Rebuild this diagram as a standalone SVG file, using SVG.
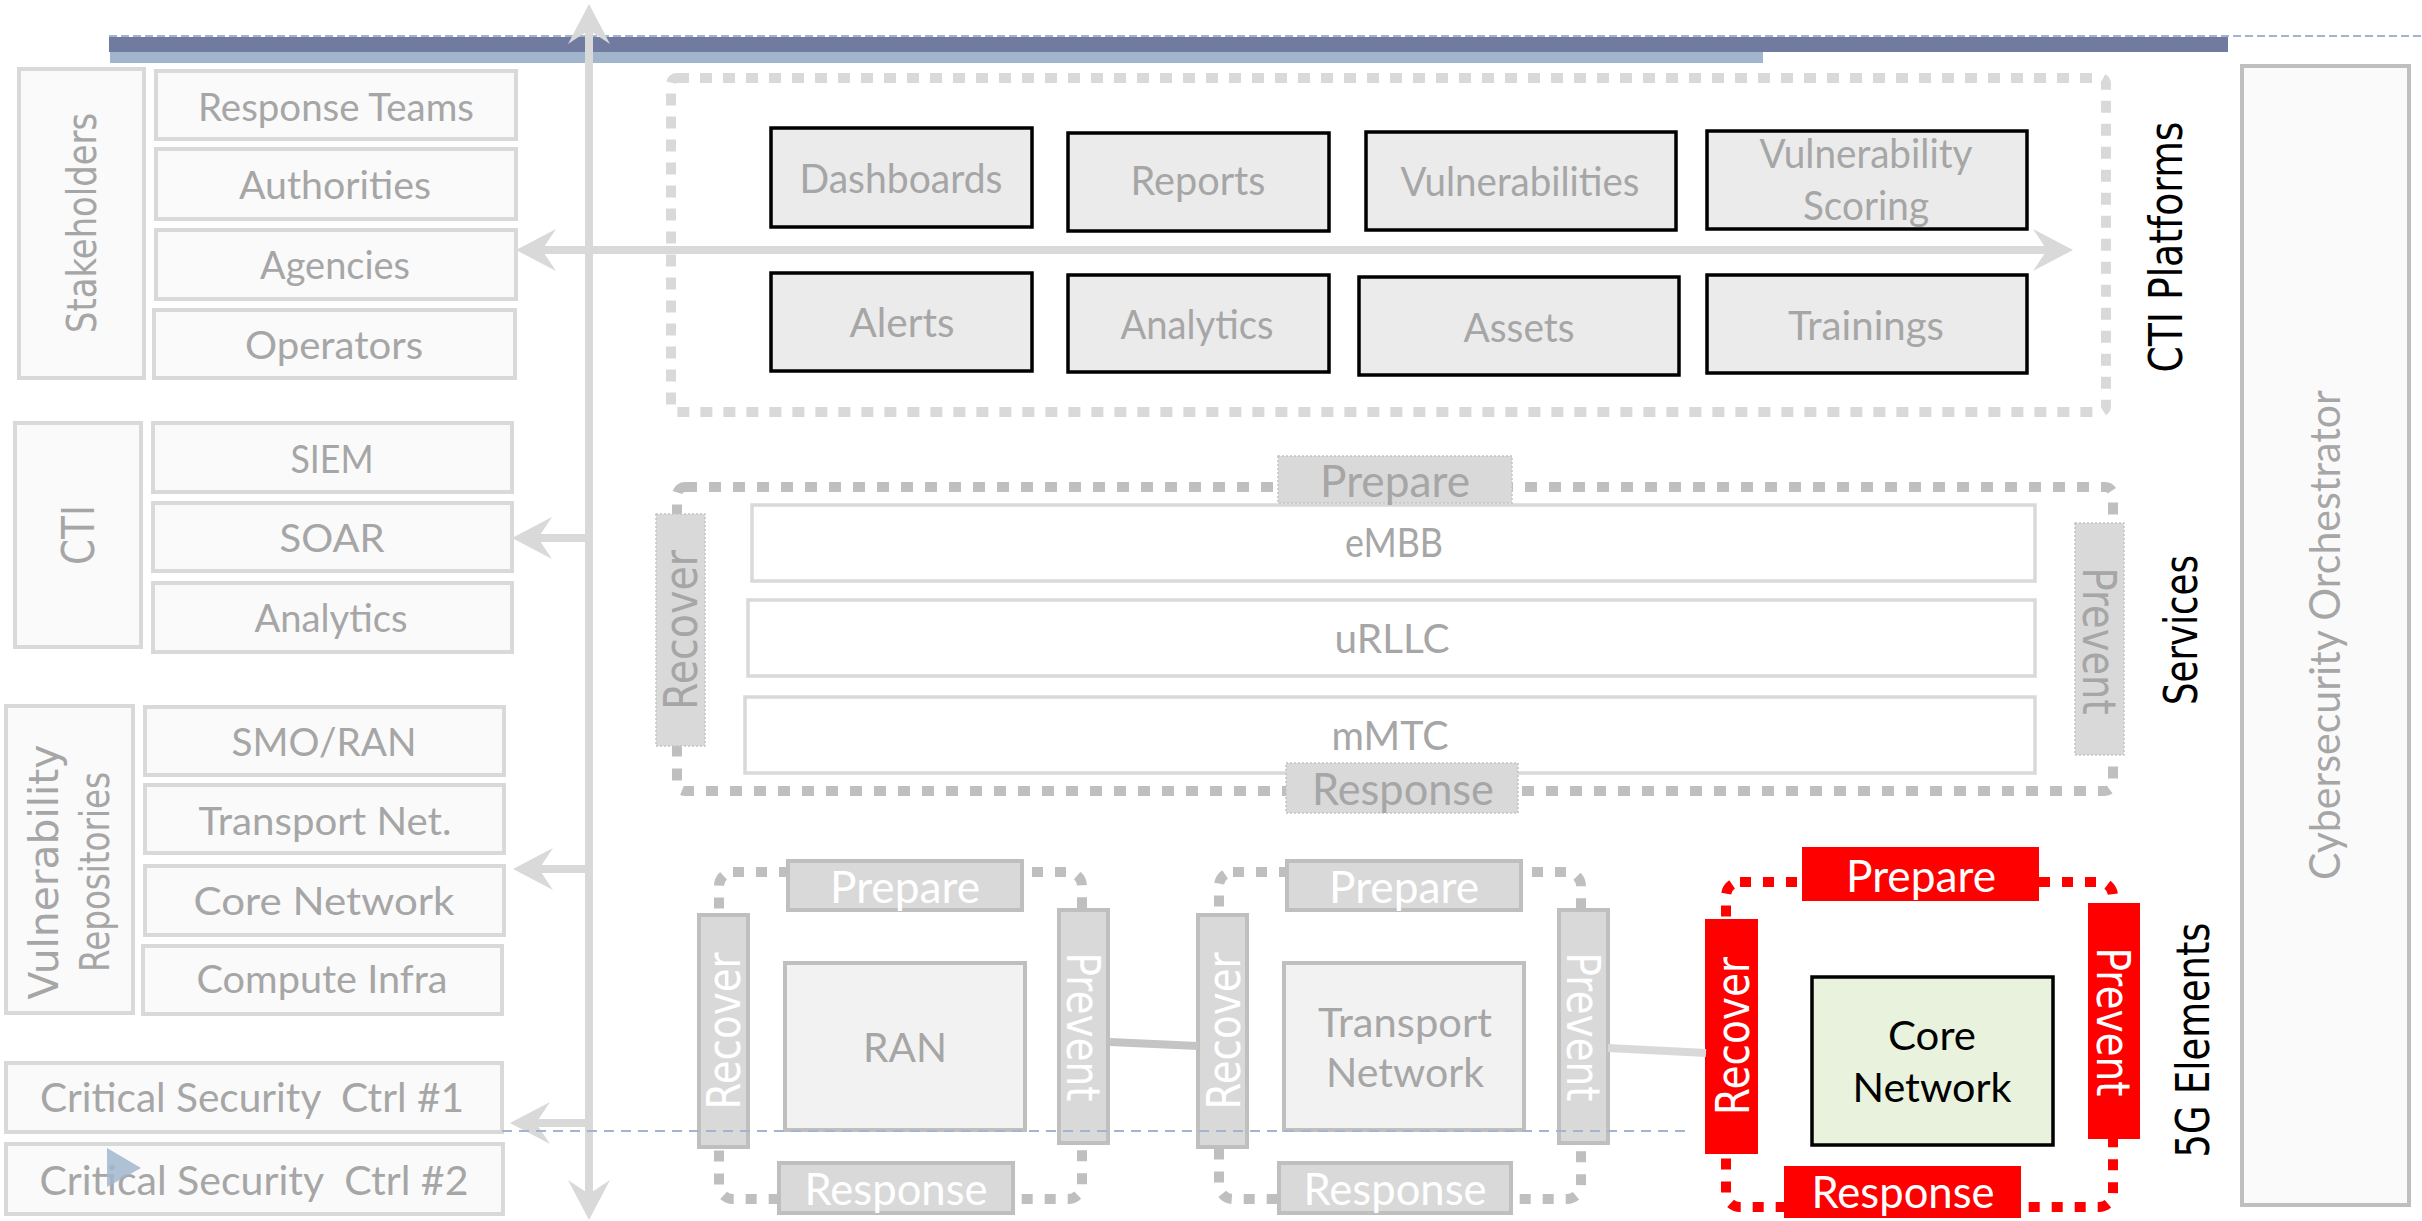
<svg xmlns="http://www.w3.org/2000/svg" width="2422" height="1221" viewBox="0 0 2422 1221">
  <defs>
    <style>
      .lbox { fill:#FAFAFA; stroke:#D9D9D9; stroke-width:4; }
      .plat { fill:#EBEBEB; stroke:#000000; stroke-width:3.5; }
      .svc  { fill:#FFFFFF; stroke:#D9D9D9; stroke-width:3.5; }
      .el   { fill:#F2F2F2; stroke:#BFBFBF; stroke-width:4; }
      .core { fill:#E8F2DC; stroke:#000000; stroke-width:3.5; }
      .orch { fill:#FAFAFA; stroke:#BFBFBF; stroke-width:4; }
      .tagg { fill:#D9D9D9; stroke:#BFBFBF; stroke-width:4; }
      .tags { fill:#D9D9D9; stroke:#C4C4C4; stroke-width:1.5; stroke-dasharray:2 2; }
      .tagr { fill:#FF0000; stroke:#FF0000; stroke-width:2; }
      .frame-plat { fill:none; stroke:#D9D9D9; stroke-width:10; stroke-dasharray:12 11; }
      .frame-svc  { fill:none; stroke:#BFBFBF; stroke-width:10; stroke-dasharray:12 12; }
      .frame-el   { fill:none; stroke:#BFBFBF; stroke-width:10; stroke-dasharray:11 12; }
      .frame-red  { fill:none; stroke:#FF0000; stroke-width:10; stroke-dasharray:11 12; }
      .t  { font-family:Lato, 'Liberation Sans', sans-serif; fill:#A6A6A6; text-anchor:middle; }
      .tw { font-family:Lato, 'Liberation Sans', sans-serif; fill:#FFFFFF; text-anchor:middle; }
      .tb { font-family:Lato, 'Liberation Sans', sans-serif; fill:#000000; text-anchor:middle; }
      .r  { font-family:'DejaVu Sans', sans-serif; text-anchor:middle; }
      .pre { white-space:pre; }
      .arrow { fill:none; stroke:#D9D9D9; stroke-width:8; }
      .link  { fill:none; stroke-width:8; }
    </style>
    <marker id="head" viewBox="0 -21 40 42" markerWidth="40" markerHeight="42" markerUnits="userSpaceOnUse" refX="30" refY="0" orient="auto-start-reverse">
      <path d="M0,-21 L40,0 L0,21 L14,0 Z" fill="#D9D9D9"/>
    </marker>
  </defs>

  <rect width="2422" height="1221" fill="#FFFFFF"/>

  <!-- header bars -->
  <g id="header">
    <line x1="109" y1="36" x2="2422" y2="36" stroke="#A1B6CC" stroke-width="2" stroke-dasharray="8 4"/>
    <rect x="109" y="37" width="2119" height="15" fill="#717BA0"/>
    <rect x="110" y="52" width="1653" height="11" fill="#A1B6CC"/>
  </g>

  <!-- stakeholders -->
  <g id="stakeholders">
    <rect class="lbox" x="19" y="69" width="125" height="309"/>
    <text class="r" fill="#A6A6A6" font-size="40" textLength="220" lengthAdjust="spacingAndGlyphs" transform="translate(96,223) rotate(-90)">Stakeholders</text>
  </g>
  <g id="response-teams">
    <rect class="lbox" x="156" y="71" width="360" height="68"/>
    <text class="t" x="336" y="121" font-size="38" textLength="276" lengthAdjust="spacingAndGlyphs">Response Teams</text>
  </g>
  <g id="authorities">
    <rect class="lbox" x="156" y="149" width="360" height="70"/>
    <text class="t" x="335" y="199" font-size="38" textLength="192" lengthAdjust="spacingAndGlyphs">Authorities</text>
  </g>
  <g id="agencies">
    <rect class="lbox" x="156" y="230" width="360" height="69"/>
    <text class="t" x="335" y="279" font-size="38" textLength="150" lengthAdjust="spacingAndGlyphs">Agencies</text>
  </g>
  <g id="operators">
    <rect class="lbox" x="154" y="310" width="361" height="68"/>
    <text class="t" x="334" y="359" font-size="38" textLength="178" lengthAdjust="spacingAndGlyphs">Operators</text>
  </g>

  <!-- CTI -->
  <g id="cti">
    <rect class="lbox" x="15" y="423" width="126" height="224"/>
    <text class="r" fill="#A6A6A6" font-size="44" textLength="60" lengthAdjust="spacingAndGlyphs" transform="translate(94,535) rotate(-90)">CTI</text>
  </g>
  <g id="siem">
    <rect class="lbox" x="153" y="423" width="359" height="69"/>
    <text class="t" x="332" y="473" font-size="38" textLength="83" lengthAdjust="spacingAndGlyphs">SIEM</text>
  </g>
  <g id="soar">
    <rect class="lbox" x="153" y="503" width="359" height="68"/>
    <text class="t" x="332" y="552" font-size="38" textLength="105" lengthAdjust="spacingAndGlyphs">SOAR</text>
  </g>
  <g id="cti-analytics">
    <rect class="lbox" x="153" y="583" width="359" height="69"/>
    <text class="t" x="331" y="632" font-size="38" textLength="153" lengthAdjust="spacingAndGlyphs">Analytics</text>
  </g>

  <!-- vulnerability repositories -->
  <g id="vuln-repos">
    <rect class="lbox" x="6" y="706" width="127" height="307"/>
    <text class="r" fill="#A6A6A6" font-size="40" textLength="255" lengthAdjust="spacingAndGlyphs" transform="translate(58,872) rotate(-90)">Vulnerability</text>
    <text class="r" fill="#A6A6A6" font-size="40" textLength="200" lengthAdjust="spacingAndGlyphs" transform="translate(109,872) rotate(-90)">Repositories</text>
  </g>
  <g id="smo-ran">
    <rect class="lbox" x="145" y="707" width="359" height="68"/>
    <text class="t" x="324" y="756" font-size="38" textLength="185" lengthAdjust="spacingAndGlyphs">SMO/RAN</text>
  </g>
  <g id="transport-net">
    <rect class="lbox" x="145" y="785" width="359" height="68"/>
    <text class="t" x="325" y="835" font-size="38" textLength="253" lengthAdjust="spacingAndGlyphs">Transport Net.</text>
  </g>
  <g id="core-net">
    <rect class="lbox" x="145" y="866" width="359" height="69"/>
    <text class="t" x="324" y="915" font-size="38" textLength="261" lengthAdjust="spacingAndGlyphs">Core Network</text>
  </g>
  <g id="compute-infra">
    <rect class="lbox" x="143" y="946" width="359" height="68"/>
    <text class="t" x="322" y="993" font-size="38" textLength="251" lengthAdjust="spacingAndGlyphs">Compute Infra</text>
  </g>

  <!-- critical security controls -->
  <g id="csc1">
    <rect class="lbox" x="6" y="1063" width="496" height="69"/>
    <text class="t pre" x="252" y="1112" font-size="40" textLength="424" lengthAdjust="spacingAndGlyphs">Critical Security  Ctrl #1</text>
  </g>
  <g id="csc2">
    <rect class="lbox" x="6" y="1144" width="497" height="70"/>
    <text class="t pre" x="254" y="1195" font-size="40" textLength="429" lengthAdjust="spacingAndGlyphs">Critical Security  Ctrl #2</text>
    <polygon points="107,1148 141,1168 107,1187" fill="#A1B6CC" fill-opacity="0.85"/>
  </g>

  <!-- CTI platforms -->
  <g id="cti-platforms">
    <rect class="frame-plat" x="671" y="78" width="1435" height="334" rx="6"/>
    <text class="r" fill="#000000" font-size="46" textLength="251" lengthAdjust="spacingAndGlyphs" transform="translate(2182,247) rotate(-90)">CTI Platforms</text>
  </g>
  <g id="dashboards">
    <rect class="plat" x="771" y="128" width="261" height="99"/>
    <text class="t" x="901" y="193" font-size="40" textLength="203" lengthAdjust="spacingAndGlyphs">Dashboards</text>
  </g>
  <g id="reports">
    <rect class="plat" x="1068" y="133" width="261" height="98"/>
    <text class="t" x="1198" y="195" font-size="40" textLength="135" lengthAdjust="spacingAndGlyphs">Reports</text>
  </g>
  <g id="vulnerabilities">
    <rect class="plat" x="1366" y="132" width="310" height="98"/>
    <text class="t" x="1520" y="196" font-size="40" textLength="239" lengthAdjust="spacingAndGlyphs">Vulnerabilities</text>
  </g>
  <g id="vuln-scoring">
    <rect class="plat" x="1707" y="131" width="320" height="98"/>
    <text class="t" x="1866" y="168" font-size="40" textLength="213" lengthAdjust="spacingAndGlyphs">Vulnerability</text>
    <text class="t" x="1866" y="220" font-size="40" textLength="126" lengthAdjust="spacingAndGlyphs">Scoring</text>
  </g>
  <g id="alerts">
    <rect class="plat" x="771" y="273" width="261" height="98"/>
    <text class="t" x="902" y="337" font-size="40" textLength="105" lengthAdjust="spacingAndGlyphs">Alerts</text>
  </g>
  <g id="plat-analytics">
    <rect class="plat" x="1068" y="275" width="261" height="97"/>
    <text class="t" x="1197" y="339" font-size="40" textLength="153" lengthAdjust="spacingAndGlyphs">Analytics</text>
  </g>
  <g id="assets">
    <rect class="plat" x="1359" y="277" width="320" height="98"/>
    <text class="t" x="1519" y="342" font-size="40" textLength="111" lengthAdjust="spacingAndGlyphs">Assets</text>
  </g>
  <g id="trainings">
    <rect class="plat" x="1707" y="275" width="320" height="98"/>
    <text class="t" x="1866" y="340" font-size="40" textLength="156" lengthAdjust="spacingAndGlyphs">Trainings</text>
  </g>

  <!-- services -->
  <g id="services">
    <rect class="frame-svc" x="677" y="487" width="1436" height="304" rx="8"/>
    <text class="r" fill="#000000" font-size="46" textLength="150" lengthAdjust="spacingAndGlyphs" transform="translate(2197,630) rotate(-90)">Services</text>
  </g>
  <g id="embb">
    <rect class="svc" x="752" y="505" width="1283" height="76"/>
    <text class="t" x="1394" y="557" font-size="40" textLength="98" lengthAdjust="spacingAndGlyphs">eMBB</text>
  </g>
  <g id="urllc">
    <rect class="svc" x="748" y="600" width="1287" height="76"/>
    <text class="t" x="1392" y="653" font-size="40" textLength="115" lengthAdjust="spacingAndGlyphs">uRLLC</text>
  </g>
  <g id="mmtc">
    <rect class="svc" x="745" y="697" width="1290" height="76"/>
    <text class="t" x="1390" y="750" font-size="40" textLength="117" lengthAdjust="spacingAndGlyphs">mMTC</text>
  </g>
  <g id="svc-prepare">
    <rect class="tags" x="1278" y="456" width="234" height="47"/>
    <text class="t" x="1395" y="497" font-size="44" textLength="150" lengthAdjust="spacingAndGlyphs">Prepare</text>
  </g>
  <g id="svc-response">
    <rect class="tags" x="1286" y="763" width="232" height="50"/>
    <text class="t" x="1403" y="805" font-size="44" textLength="182" lengthAdjust="spacingAndGlyphs">Response</text>
  </g>
  <g id="svc-recover">
    <rect class="tags" x="656" y="514" width="49" height="232"/>
    <text class="r" fill="#A6A6A6" font-size="46" textLength="160" lengthAdjust="spacingAndGlyphs" transform="translate(697,630) rotate(-90)">Recover</text>
  </g>
  <g id="svc-prevent">
    <rect class="tags" x="2075" y="523" width="49" height="232"/>
    <text class="r" fill="#A6A6A6" font-size="46" textLength="147" lengthAdjust="spacingAndGlyphs" transform="translate(2083,641) rotate(90)">Prevent</text>
  </g>

  <!-- 5G elements -->
  <g id="elements-title">
    <text class="r" fill="#000000" font-size="46" textLength="235" lengthAdjust="spacingAndGlyphs" transform="translate(2209,1040) rotate(-90)">5G Elements</text>
  </g>

  <g id="ran">
    <rect class="frame-el" x="719" y="872" width="363" height="327" rx="14"/>
    <rect class="el" x="785" y="963" width="240" height="167"/>
    <text class="t" x="905" y="1062" font-size="40" textLength="84" lengthAdjust="spacingAndGlyphs">RAN</text>
    <rect class="tagg" x="788" y="861" width="234" height="49"/>
    <text class="tw" x="905" y="903" font-size="44" textLength="150" lengthAdjust="spacingAndGlyphs">Prepare</text>
    <rect class="tagg" x="779" y="1163" width="234" height="50"/>
    <text class="tw" x="896" y="1205" font-size="44" textLength="183" lengthAdjust="spacingAndGlyphs">Response</text>
    <rect class="tagg" x="699" y="915" width="49" height="232"/>
    <text class="r" fill="#FFFFFF" font-size="46" textLength="157" lengthAdjust="spacingAndGlyphs" transform="translate(740,1031) rotate(-90)">Recover</text>
    <rect class="tagg" x="1059" y="910" width="49" height="233"/>
    <text class="r" fill="#FFFFFF" font-size="46" textLength="149" lengthAdjust="spacingAndGlyphs" transform="translate(1067,1027) rotate(90)">Prevent</text>
  </g>

  <g id="transport">
    <rect class="frame-el" x="1219" y="872" width="362" height="327" rx="14"/>
    <rect class="el" x="1284" y="963" width="240" height="167"/>
    <text class="t" x="1405" y="1037" font-size="40" textLength="174" lengthAdjust="spacingAndGlyphs">Transport</text>
    <text class="t" x="1405" y="1087" font-size="40" textLength="158" lengthAdjust="spacingAndGlyphs">Network</text>
    <rect class="tagg" x="1287" y="861" width="234" height="49"/>
    <text class="tw" x="1404" y="903" font-size="44" textLength="150" lengthAdjust="spacingAndGlyphs">Prepare</text>
    <rect class="tagg" x="1279" y="1163" width="232" height="50"/>
    <text class="tw" x="1395" y="1205" font-size="44" textLength="183" lengthAdjust="spacingAndGlyphs">Response</text>
    <rect class="tagg" x="1198" y="915" width="49" height="232"/>
    <text class="r" fill="#FFFFFF" font-size="46" textLength="157" lengthAdjust="spacingAndGlyphs" transform="translate(1240,1031) rotate(-90)">Recover</text>
    <rect class="tagg" x="1559" y="910" width="49" height="233"/>
    <text class="r" fill="#FFFFFF" font-size="46" textLength="149" lengthAdjust="spacingAndGlyphs" transform="translate(1567,1027) rotate(90)">Prevent</text>
  </g>

  <g id="core">
    <rect class="frame-red" x="1726" y="882" width="387" height="325" rx="14"/>
    <rect class="core" x="1812" y="977" width="241" height="168"/>
    <text class="tb" x="1932" y="1050" font-size="40" textLength="88" lengthAdjust="spacingAndGlyphs">Core</text>
    <text class="tb" x="1932" y="1102" font-size="40" textLength="159" lengthAdjust="spacingAndGlyphs">Network</text>
    <rect class="tagr" x="1803" y="848" width="235" height="52"/>
    <text class="tw" x="1921" y="892" font-size="44" textLength="150" lengthAdjust="spacingAndGlyphs">Prepare</text>
    <rect class="tagr" x="1785" y="1167" width="235" height="50"/>
    <text class="tw" x="1903" y="1208" font-size="44" textLength="183" lengthAdjust="spacingAndGlyphs">Response</text>
    <rect class="tagr" x="1706" y="920" width="51" height="233"/>
    <text class="r" fill="#FFFFFF" font-size="46" textLength="158" lengthAdjust="spacingAndGlyphs" transform="translate(1749,1036) rotate(-90)">Recover</text>
    <rect class="tagr" x="2089" y="904" width="50" height="234"/>
    <text class="r" fill="#FFFFFF" font-size="46" textLength="149" lengthAdjust="spacingAndGlyphs" transform="translate(2097,1022) rotate(90)">Prevent</text>
  </g>

  <!-- orchestrator -->
  <g id="orchestrator">
    <rect class="orch" x="2242" y="66" width="167" height="1139"/>
    <text class="t" font-size="42" textLength="490" lengthAdjust="spacingAndGlyphs" transform="translate(2340,635) rotate(-90)">Cybersecurity Orchestrator</text>
  </g>

  <!-- connectors -->
  <g id="connectors">
    <line class="link" stroke="#C4C4C4" x1="1110" y1="1042" x2="1198" y2="1046"/>
    <line class="link" stroke="#D9D9D9" x1="1608" y1="1048" x2="1706" y2="1053"/>
    <line class="arrow" x1="589" y1="14" x2="589" y2="1210" marker-start="url(#head)" marker-end="url(#head)"/>
    <line class="arrow" x1="526" y1="250" x2="2063" y2="250" marker-start="url(#head)" marker-end="url(#head)"/>
    <line class="arrow" x1="589" y1="538" x2="522" y2="538" marker-end="url(#head)"/>
    <line class="arrow" x1="589" y1="869" x2="523" y2="869" marker-end="url(#head)"/>
    <line class="arrow" x1="589" y1="1123" x2="520" y2="1123" marker-end="url(#head)"/>
    <line x1="502" y1="1131" x2="1690" y2="1131" stroke="#A1B6CC" stroke-width="2" stroke-dasharray="10 7"/>
  </g>
</svg>
